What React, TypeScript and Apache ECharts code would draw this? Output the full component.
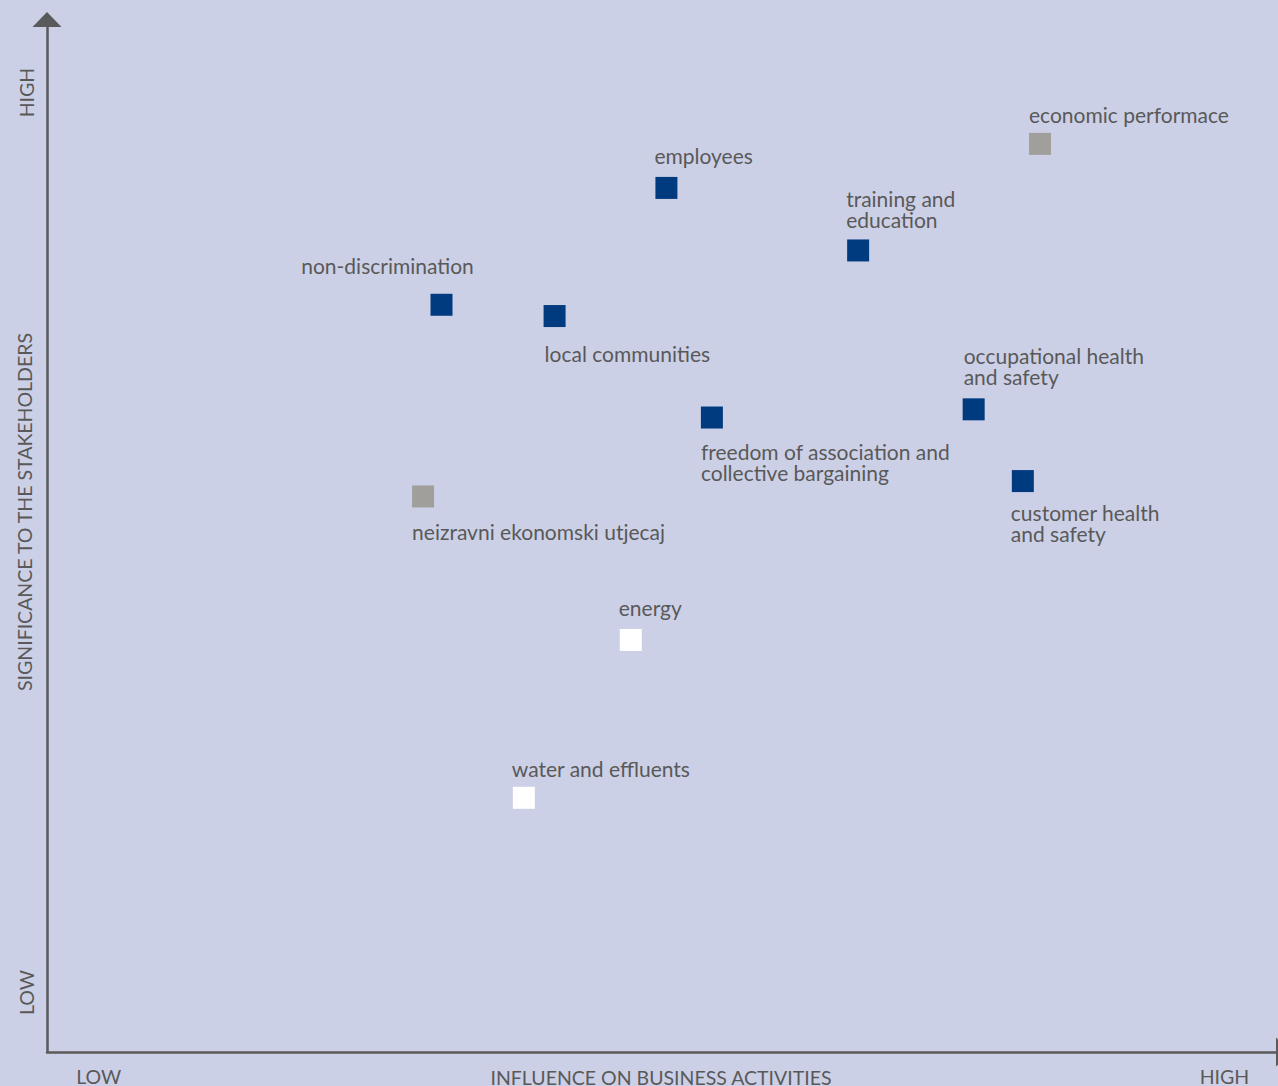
import React, { useEffect, useRef } from "react";
import * as echarts from "echarts";

// ---- data ----
const topics = [
  "economic performace",
  "employees",
  "training and education",
  "non-discrimination",
  "local communities",
  "freedom of association and collective bargaining",
  "occupational health and safety",
  "customer health and safety",
  "neizravni ekonomski utjecaj",
  "energy",
  "water and effluents",
];
const labelTexts = [
  "economic performace",
  "employees",
  "training and\neducation",
  "non-discrimination",
  "local communities",
  "freedom of association and\ncollective bargaining",
  "occupational health\nand safety",
  "customer health\nand safety",
  "neizravni ekonomski utjecaj",
  "energy",
  "water and effluents",
];
// influence on business activities (0 = low, 100 = high)
const influence = [80.8, 50.4, 66.0, 32.1, 41.3, 54.1, 75.4, 79.4, 30.6, 47.5, 38.8];
// significance to the stakeholders (0 = low, 100 = high)
const significance = [88.6, 84.3, 78.2, 72.9, 71.8, 61.9, 62.7, 55.7, 54.2, 40.2, 24.8];
// topic group
const groups = ["economic", "social", "social", "social", "social", "social", "social", "social", "economic", "environmental", "environmental"];

const xTickLabels = ["LOW", "HIGH"];
const yTickLabels = ["LOW", "HIGH"];
const xAxisTitle = "INFLUENCE ON BUSINESS ACTIVITIES";
const yAxisTitle = "SIGNIFICANCE TO THE STAKEHOLDERS";

// ---- layout / style (not data) ----
const groupColors: Record<string, string> = {
  social: "#003a7f",
  economic: "#a09f9b",
  environmental: "#ffffff",
};
// first-line baseline offset from the marker centre, and horizontal shift
const labelBaseline = [-22, -25, -44, -32, 45, 41, -46, 39, 43, -25, -22];
const labelShiftX = [0, -1, -1, -54, 1, 0, 1, -1, 0, -1, -1];
const labelAlign = ["left", "left", "left", "center", "left", "left", "left", "left", "left", "left", "left"];

const FONT = "Lato, 'Source Sans Pro', sans-serif";
const TEXT_COLOR = "#595959";
const AXIS_COLOR = "#5a5a5a";
const BG = "#ccd0e6";
const MARK = 22;
const LABEL_SIZE = 21;
const AXIS_SIZE = 19.5;
const LINE_H = 21;
const BASE_K = 18;

export default function App() {
  const ref = useRef<HTMLDivElement>(null);

  useEffect(() => {
    document.body.style.margin = "0";
    document.body.style.background = BG;
    if (!ref.current) return;
    const chart = echarts.init(ref.current, undefined, { renderer: "svg" });

    const data = topics.map((name, i) => ({
      name,
      value: [influence[i], significance[i]],
      itemStyle: { color: groupColors[groups[i]], opacity: 1 },
      label: {
        show: true,
        formatter: labelTexts[i],
        position: [
          labelAlign[i] === "center" ? MARK / 2 + labelShiftX[i] : labelShiftX[i],
          MARK / 2 + labelBaseline[i] - BASE_K,
        ],
        align: labelAlign[i],
        verticalAlign: "top",
      },
    }));

    chart.setOption({
      animation: false,
      backgroundColor: BG,
      textStyle: { fontFamily: FONT },
      grid: { left: 47, right: 2, top: 27, bottom: 34, containLabel: false },
      xAxis: {
        type: "value",
        min: 0,
        max: 100,
        splitLine: { show: false },
        axisTick: { show: false },
        axisLine: {
          show: true,
          onZero: false,
          lineStyle: { color: AXIS_COLOR, width: 2.5 },
          symbol: ["none", "triangle"],
          symbolSize: [29, 15],
          symbolOffset: [0, 7.5],
        },
        axisLabel: {
          show: true,
          customValues: [4.2, 95.8],
          formatter: (v: number) => (v < 50 ? xTickLabels[0] : xTickLabels[1]),
          color: TEXT_COLOR,
          fontFamily: FONT,
          fontSize: AXIS_SIZE,
          margin: 14,
        },
      },
      yAxis: {
        type: "value",
        min: 0,
        max: 100,
        splitLine: { show: false },
        axisTick: { show: false },
        axisLine: {
          show: true,
          onZero: false,
          lineStyle: { color: AXIS_COLOR, width: 2.5 },
          symbol: ["none", "triangle"],
          symbolSize: [29, 15],
          symbolOffset: [0, 7.5],
        },
        axisLabel: {
          show: true,
          customValues: [5.8, 93.6],
          formatter: (v: number) => (v < 50 ? yTickLabels[0] : yTickLabels[1]),
          rotate: 90,
          color: TEXT_COLOR,
          fontFamily: FONT,
          fontSize: AXIS_SIZE,
          margin: 11,
        },
      },
      graphic: [
        {
          type: "text",
          x: 661,
          y: 1077,
          style: {
            text: xAxisTitle,
            fill: TEXT_COLOR,
            font: `${AXIS_SIZE}px ${FONT}`,
            align: "center",
            verticalAlign: "middle",
          },
        },
        {
          type: "text",
          x: 24,
          y: 512,
          rotation: Math.PI / 2,
          style: {
            text: yAxisTitle,
            fill: TEXT_COLOR,
            font: `${AXIS_SIZE}px ${FONT}`,
            align: "center",
            verticalAlign: "middle",
          },
        },
      ],
      series: [
        {
          type: "scatter",
          symbol: "rect",
          symbolSize: MARK,
          data,
          itemStyle: { opacity: 1 },
          label: {
            color: TEXT_COLOR,
            fontFamily: FONT,
            fontSize: LABEL_SIZE,
            lineHeight: LINE_H,
          },
          emphasis: { disabled: true },
        },
      ],
    });

    return () => chart.dispose();
  }, []);

  return <div ref={ref} style={{ width: 1278, height: 1086 }} />;
}
